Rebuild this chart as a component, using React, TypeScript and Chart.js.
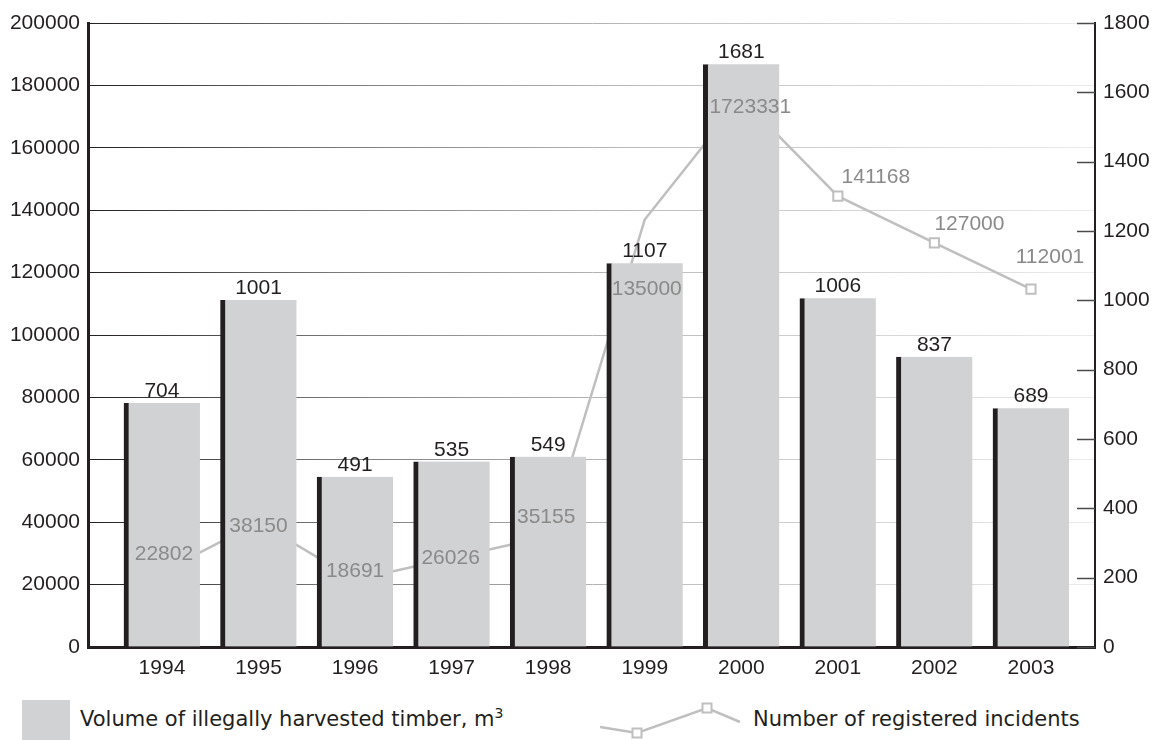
import React, { useEffect, useRef } from "react";
import { Chart, registerables } from "chart.js";

Chart.register(...registerables);

const years = [1994, 1995, 1996, 1997, 1998, 1999, 2000, 2001, 2002, 2003];
const barValues = [704, 1001, 491, 535, 549, 1107, 1681, 1006, 837, 689];
const lineValues = [24000, 40000, 21500, 28500, 35500, 137000, 176000, 144500, 129500, 114700];
const lineLabels = ["22802", "38150", "18691", "26026", "35155", "135000", "1723331", "141168", "127000", "112001"];
const lineMarkers = [false, false, false, false, false, false, false, true, true, true];
const leftAxis = { min: 0, max: 200000, step: 20000 };
const rightAxis = { min: 0, max: 1800, step: 200 };
const legendBar = "Volume of illegally harvested timber, m";
const legendLine = "Number of registered incidents";

// label placement offsets relative to the line point (pixels)
const lineLabelOffsets: [number, number][] = [
  [2, -18], [0, 4], [0, -9], [-1, 0], [-2, -19], [2, 70], [9, 9], [38, -19], [35, -19], [19, -32],
];

const FONT = "'Liberation Sans', Arial, sans-serif";
const LEGEND_FONT = "'DejaVu Sans', sans-serif";
const DARK = "#231f20";
const BAR_FILL = "#d1d2d4";
const LINE_COLOR = "#bfbfbf";
const LABEL_GRAY = "#8a8a8a";

const labelsPlugin = {
  id: "customLabels",
  afterDatasetsDraw(chart: any) {
    const ctx = chart.ctx;
    const x = chart.scales.x;
    const y = chart.scales.y;
    const y1 = chart.scales.y1;
    const area = chart.chartArea;
    ctx.save();
    // right axis inner ticks
    ctx.strokeStyle = "#4a4a4a";
    ctx.lineWidth = 1.5;
    for (let v = rightAxis.min; v <= rightAxis.max; v += rightAxis.step) {
      const py = Math.round(y1.getPixelForValue(v)) + 0.5;
      ctx.beginPath();
      ctx.moveTo(area.right - 18, py);
      ctx.lineTo(area.right, py);
      ctx.stroke();
    }
    ctx.font = `21px ${FONT}`;
    ctx.textAlign = "center";
    // bar labels
    ctx.fillStyle = DARK;
    ctx.textBaseline = "alphabetic";
    barValues.forEach((v, i) => {
      ctx.fillText(String(v), x.getPixelForValue(years[i]), y1.getPixelForValue(v) - 6);
    });
    // line labels
    ctx.fillStyle = LABEL_GRAY;
    ctx.textBaseline = "middle";
    lineValues.forEach((v, i) => {
      const [dx, dy] = lineLabelOffsets[i];
      ctx.fillText(lineLabels[i], x.getPixelForValue(years[i]) + dx, y.getPixelForValue(v) + dy);
    });
    ctx.restore();
  },
};

export default function App() {
  const ref = useRef<HTMLCanvasElement | null>(null);

  useEffect(() => {
    document.body.style.margin = "0";
    if (!ref.current) return;
    const chart = new Chart(ref.current, {
      data: {
        datasets: [
          {
            type: "bar",
            label: legendBar,
            yAxisID: "y1",
            data: years.map((yr, i) => ({ x: yr, y: barValues[i] })),
            backgroundColor: BAR_FILL,
            borderColor: DARK,
            borderWidth: { left: 5, top: 0, right: 0, bottom: 0 },
            borderSkipped: false,
            barThickness: 76,
            order: 0,
          } as any,
          {
            type: "line",
            label: legendLine,
            yAxisID: "y",
            data: years.map((yr, i) => ({ x: yr, y: lineValues[i] })),
            borderColor: LINE_COLOR,
            borderWidth: 2.5,
            tension: 0,
            pointStyle: "rect",
            pointRadius: lineMarkers.map((m) => (m ? 6.5 : 0)),
            pointBackgroundColor: "#ffffff",
            pointBorderColor: LINE_COLOR,
            pointBorderWidth: 2,
            order: 1,
          } as any,
        ],
      },
      options: {
        animation: false,
        responsive: false,
        events: [],
        layout: { padding: { top: 23, left: 0, right: 0, bottom: 0 } },
        plugins: { legend: { display: false }, tooltip: { enabled: false } },
        scales: {
          x: {
            type: "linear",
            offset: false,
            min: 1993.234,
            max: 2003.663,
            afterBuildTicks: (axis: any) => {
              axis.ticks = years.map((v) => ({ value: v }));
            },
            afterFit: (s: any) => {
              s.height = 43;
            },
            grid: { display: false, drawTicks: false, offset: false },
            border: { display: true, color: DARK, width: 3 },
            ticks: {
              padding: 9,
              color: DARK,
              font: { family: FONT, size: 21 },
              callback: (v: any) => String(v),
              autoSkip: false,
              maxRotation: 0,
            },
          },
          y: {
            position: "left",
            min: leftAxis.min,
            max: leftAxis.max,
            afterFit: (s: any) => {
              s.width = 88;
            },
            grid: {
              drawTicks: false,
              lineWidth: 1,
              color: (c: any) => {
                const ch = c.chart;
                const a = ch.chartArea;
                if (!a) return "#999";
                const g = ch.ctx.createLinearGradient(a.left, 0, a.right, 0);
                g.addColorStop(0, "#231f20");
                g.addColorStop(0.25, "#7a7a7a");
                g.addColorStop(0.55, "#bdbdbd");
                g.addColorStop(1, "#ececec");
                return g;
              },
            },
            border: { display: true, color: DARK, width: 3 },
            ticks: {
              stepSize: leftAxis.step,
              padding: 8,
              color: DARK,
              font: { family: FONT, size: 21 },
              callback: (v: any) => String(v),
            },
          },
          y1: {
            position: "right",
            min: rightAxis.min,
            max: rightAxis.max,
            afterFit: (s: any) => {
              s.width = 56;
            },
            grid: { drawOnChartArea: false, drawTicks: false },
            border: { display: true, color: DARK, width: 2 },
            ticks: {
              stepSize: rightAxis.step,
              padding: 8,
              color: DARK,
              font: { family: FONT, size: 21 },
              callback: (v: any) => String(v),
            },
          },
        },
      } as any,
      plugins: [labelsPlugin],
    });
    return () => chart.destroy();
  }, []);

  return (
    <div style={{ position: "relative", width: 1151, height: 740, overflow: "hidden", background: "#fff" }}>
      <canvas ref={ref} width={1151} height={690} style={{ position: "absolute", left: 0, top: 0 }} />
      <div
        style={{
          position: "absolute",
          left: 22,
          top: 700,
          width: 48,
          height: 40,
          background: BAR_FILL,
        }}
      />
      <div
        style={{
          position: "absolute",
          left: 80,
          top: 706,
          fontFamily: LEGEND_FONT,
          fontSize: 21,
          lineHeight: "26px",
          color: DARK,
          whiteSpace: "nowrap",
        }}
      >
        {legendBar}
        <sup style={{ fontSize: 14, lineHeight: 0, verticalAlign: "super" }}>3</sup>
      </div>
      <svg
        width={160}
        height={50}
        style={{ position: "absolute", left: 590, top: 690 }}
      >
        <polyline
          points="10,37 47,43 117,18 150,32"
          fill="none"
          stroke={LINE_COLOR}
          strokeWidth={2.5}
        />
        <rect x={42.5} y={38.5} width={9} height={9} fill="#fff" stroke={LINE_COLOR} strokeWidth={2} />
        <rect x={112.5} y={13.5} width={9} height={9} fill="#fff" stroke={LINE_COLOR} strokeWidth={2} />
      </svg>
      <div
        style={{
          position: "absolute",
          left: 753,
          top: 706,
          fontFamily: LEGEND_FONT,
          fontSize: 21,
          lineHeight: "26px",
          color: DARK,
          whiteSpace: "nowrap",
        }}
      >
        {legendLine}
      </div>
    </div>
  );
}
